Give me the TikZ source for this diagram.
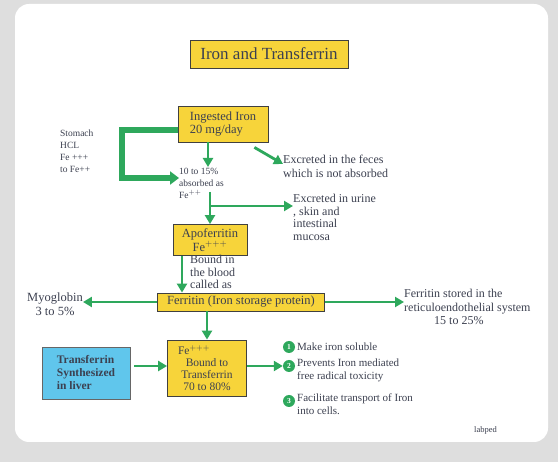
\documentclass[tikz,border=0pt]{standalone}
\usepackage{fontspec}
\setmainfont{Liberation Serif}
\usetikzlibrary{positioning, arrows.meta}

\definecolor{slidegreen}{RGB}{46,168,92}
\definecolor{boxyellow}{RGB}{247,212,58}
\definecolor{boxblue}{RGB}{96,198,236}
\definecolor{inkgray}{RGB}{60,64,80}

\begin{document}
\begin{tikzpicture}[
        x=1pt, y=-1pt, >={Triangle[length=9pt, width=10pt]},
        ybox/.style={rectangle, draw=black!75, fill=boxyellow, line width=0.8pt, inner sep=1pt, align=center, text=inkgray, font=\fontsize{12.5}{12.5}\selectfont},
        bbox/.style={rectangle, draw=black!60, fill=boxblue, line width=0.8pt, minimum width=88pt, minimum height=52pt, align=left, text=inkgray, font=\fontsize{11.5}{13}\selectfont\bfseries},
        txt/.style={anchor=north west, align=left, inner sep=0pt, text=inkgray, font=\fontsize{12}{13.5}\selectfont},
        smalltxt/.style={txt, font=\fontsize{9.5}{12}\selectfont},
        flow/.style={->, line width=2.8pt, slidegreen},
        num/.style={circle, fill=slidegreen, text=white, minimum size=12pt, inner sep=0pt, font=\fontsize{7.5}{7.5}\selectfont\bfseries}
    ]
        \useasboundingbox (0,0) rectangle (558,462);
        \fill[black!13] (0,0) rectangle (558,462);
        \fill[white, rounded corners=14pt] (15,4) rectangle (548,442);

        % --- TITLE ---
        \node[ybox, minimum width=158pt, minimum height=28pt, font=\fontsize{17}{17}\selectfont] (title) at (269,54) {Iron and Transferrin};

        % --- INGESTION ---
        \node[ybox, minimum width=90pt, minimum height=36pt, align=left] (ingest) at (223,124) {Ingested Iron\\20 mg/day};
        \node[smalltxt] (stomach) at (60,130) {Stomach\\HCL\\Fe +++\\to Fe++};
        \node[smalltxt] (absorbed) at (179,168) {10 to 15\%\\absorbed as\\Fe$^{++}$};
        \node[txt] (feces) at (283,155) {Excreted in the feces\\which is not absorbed};
        \node[txt, font=\fontsize{12}{12.5}\selectfont] (urine) at (293,194) {Excreted in urine\\, skin and\\ intestinal\\ mucosa};

        % --- APOFERRITIN & FERRITIN ---
        \node[ybox, minimum width=74pt, minimum height=31pt, font=\fontsize{12.5}{12}\selectfont] (apoferritin) at (210,240) {Apoferritin\\Fe$^{+++}$};
        \node[txt, font=\fontsize{12}{12.5}\selectfont] (bound) at (190,255) {Bound in\\the blood\\called as};
        \node[ybox, minimum width=167pt, minimum height=18pt] (ferritin) at (241,302) {Ferritin (Iron storage protein)};
        \node[txt, align=center, anchor=center, font=\fontsize{12.5}{14}\selectfont] (myoglobin) at (55,304) {Myoglobin\\3 to 5\%};
        \node[txt] (reticulo) at (404,289) {Ferritin stored in the\\reticuloendothelial system\\\hspace*{30pt}15 to 25\%};

        % --- TRANSFERRIN ---
        \node[bbox] (liver) at (86,373) {Transferrin\\Synthesized\\in liver};
        \node[ybox, minimum width=79pt, minimum height=56pt, font=\fontsize{11.5}{12}\selectfont] (transferrin) at (207,368) {Fe$^{+++}$\hspace*{26pt}\\Bound to\\Transferrin\\70 to 80\%};

        % --- FUNCTIONS ---
        \node[num] (n1) at (289,347) {1};
        \node[num] (n2) at (289,366) {2};
        \node[num] (n3) at (289,401) {3};
        \node[txt, anchor=west, font=\fontsize{11}{12.5}\selectfont] (fn1) at (297,347) {Make iron soluble};
        \node[txt, font=\fontsize{11}{12.5}\selectfont] (fn2) at (297,359) {Prevents Iron  mediated\\free radical toxicity};
        \node[txt, font=\fontsize{11}{12.5}\selectfont] (fn3) at (297,394) {Facilitate transport of Iron\\into cells.};
        \node[txt, font=\fontsize{8.5}{8.5}\selectfont] (labped) at (474,426) {labped};

        % --- CONNECTIONS ---
        \coordinate (bend1) at (122,130);
        \coordinate (bend2) at (122,178);
        \draw[slidegreen, line width=6pt, line join=miter, -{Triangle[length=9pt, width=13pt]}]
            (ingest.west |- bend1) -- (bend1) -- (bend2) -- (absorbed.west |- bend2);
        \draw[flow] (ingest.south -| 208,0) -- (208,167);
        \draw[flow] (ingest.south east) ++(-14,5) -- (feces.west |- 0,164);

        \coordinate (split) at (210,206);
        \draw[line width=2.8pt, slidegreen] (210,192) -- (split);
        \draw[flow] (split) -- (apoferritin.north -| split);
        \draw[flow] (split) -- (urine.west |- split);

        \draw[flow] (apoferritin.south -| 182,0) -- (ferritin.north -| 182,0);
        \draw[flow] (ferritin.west) -- (myoglobin.east |- ferritin.west);
        \draw[flow] (ferritin.east) -- (reticulo.west |- ferritin.east);
        \draw[flow] (ferritin.south -| transferrin.north) -- (transferrin.north);

        \draw[flow] (liver.east |- n2) ++(4,0) -- (transferrin.west |- n2);
        \draw[flow] (transferrin.east |- n2) -- (n2.west);

    \end{tikzpicture}
\end{document}
